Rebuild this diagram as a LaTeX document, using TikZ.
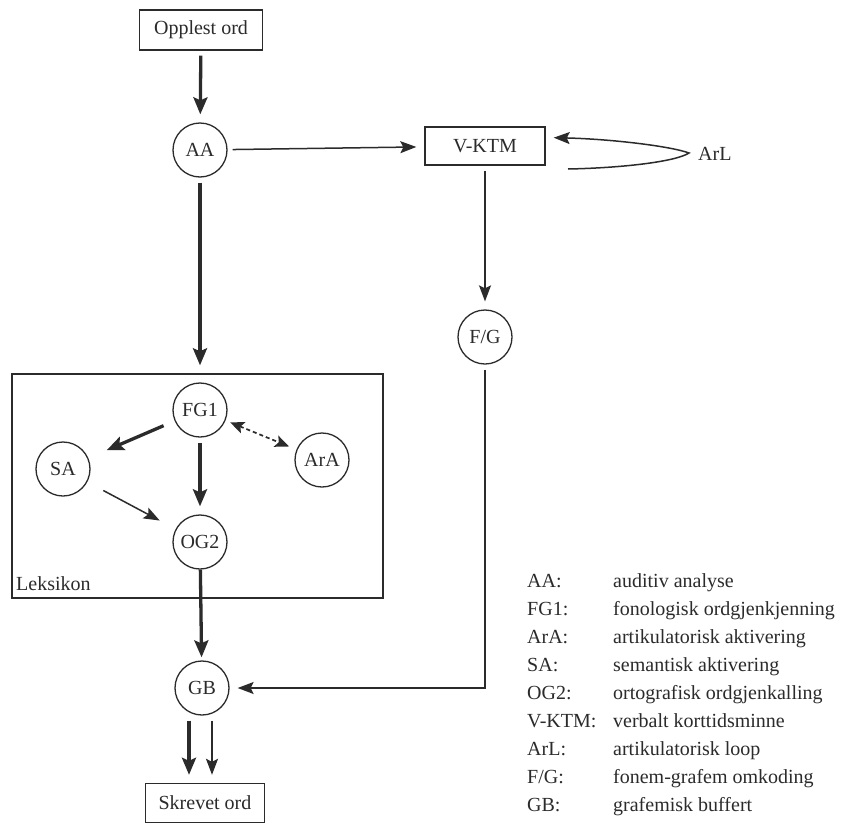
\documentclass[tikz,border=0pt]{standalone}
\usepackage{fontspec}
\setmainfont{Liberation Serif}
\usetikzlibrary{arrows.meta}

\definecolor{ink}{gray}{0.17}

\tikzset{
  box/.style={draw=ink, line width=1.4pt, minimum height=40pt, inner xsep=12pt},
  unit/.style={draw=ink, circle, line width=1.3pt, minimum size=54pt, inner sep=0pt},
  flow/.style={draw=ink, -{Stealth[length=16pt,width=12pt,inset=3pt]}, line width=1.5pt,
    shorten <=5pt, shorten >=8pt},
  heavy/.style={flow, line width=3.3pt, -{Stealth[length=17pt,width=14pt,inset=3pt]}},
  both/.style={flow, dashed, dash pattern=on 4pt off 3pt, line width=1.7pt,
    {Stealth[length=14pt,width=12pt,inset=3pt]}-{Stealth[length=14pt,width=12pt,inset=3pt]}},
  key/.style={anchor=base west, inner sep=0pt}
}

\begin{document}
\begin{tikzpicture}[x=1pt, y=-1pt, text=ink, font=\fontsize{20}{24}\selectfont]
    \useasboundingbox[fill=white] (0,0) rectangle (841,825);

    \node[box, minimum width=123pt] (opplest) at (201,30) {Opplest ord};
    \node[unit] (aa) at (200,150) {AA};
    \node[box, minimum width=120pt, minimum height=38pt] (vktm) at (485,146) {V-KTM};
    \node[key, anchor=west] (arl) at (698,154) {ArL};
    \node[unit] (fg) at (485,337) {F/G};

    % leksikon
    \node[draw=ink, line width=1.4pt, minimum width=371pt, minimum height=224pt] (lexicon) at (197.5,486) {};
    \node[key] (lexicon-label) at (16,590) {Leksikon};
    \node[unit] (fg1) at (200,410) {FG1};
    \node[unit] (sa) at (63,469) {SA};
    \node[unit] (ara) at (322,460) {ArA};
    \node[unit] (og2) at (200,542) {OG2};

    \node[unit] (gb) at (202,688) {GB};
    \node[box, minimum width=119pt, minimum height=39pt] (skrevet) at (205,803) {Skrevet ord};

    \draw[heavy] (opplest) -- (aa);
    \draw[flow] (aa) -- (vktm);
    \draw[heavy] (aa) -- (aa |- lexicon.north);
    \draw[flow] (vktm) -- (fg);
    \draw[flow] (fg) |- (gb);

    \coordinate (arl-start) at (568,169);
    \coordinate (arl-turn) at (689,153);
    \draw[flow, shorten <=0pt] (arl-start) .. controls (620,168) and (675,162) .. (arl-turn)
      .. controls (670,146) and (610,139) .. (vktm.8);

    \draw[heavy, shorten <=12pt, shorten >=20pt] (fg1) -- (sa);
    \draw[heavy] (fg1) -- (og2);
    \draw[both] (fg1) -- (ara);
    \draw[flow, shorten <=18pt, shorten >=18pt] (sa) -- (og2);
    \draw[heavy, shorten <=0pt, shorten >=3pt] (og2) -- (gb);

    \draw[heavy] ([xshift=-13pt]gb.south) -- ([xshift=-13pt]gb.south |- skrevet.north);
    \draw[flow] ([xshift=10pt]gb.south) -- ([xshift=10pt]gb.south |- skrevet.north);

    % forklaring
    \foreach \abbr/\desc [count=\i] in {AA/auditiv analyse, FG1/fonologisk ordgjenkjenning,
        ArA/artikulatorisk aktivering, SA/semantisk aktivering, OG2/ortografisk ordgjenkalling,
        V-KTM/verbalt korttidsminne, ArL/artikulatorisk loop, {F/G}/fonem-grafem omkoding,
        GB/grafemisk buffert} {
      \node[key] (abbr-\i) at (527,559+28*\i) {\abbr:};
      \node[key] (desc-\i) at (613,559+28*\i) {\desc};
    }
\end{tikzpicture}
\end{document}
